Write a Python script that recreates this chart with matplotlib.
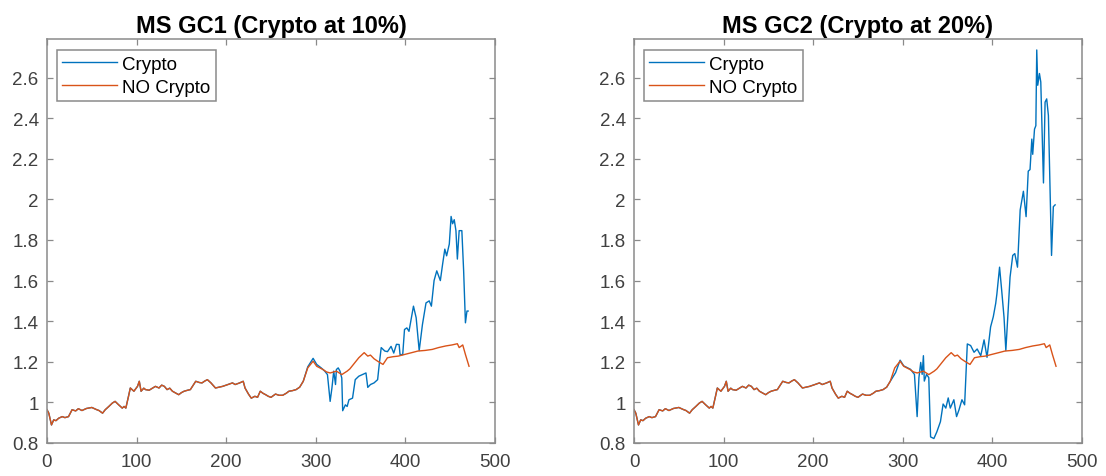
import matplotlib
matplotlib.use('Agg')
import matplotlib.pyplot as plt

# NO Crypto benchmark (same in both panels)
no_crypto_x = [0, 2, 5, 7.5, 10, 13, 17, 20, 24, 28, 32, 35, 39, 44, 50, 55, 58, 62, 65, 69,
               73, 76, 80, 84, 86, 88, 91, 93, 97, 101, 103, 105, 108, 110, 114, 118, 121, 125,
               128, 131, 134, 137, 140, 144, 147, 150, 153, 157, 160, 166, 170, 173, 176, 179,
               183, 188, 192, 196, 202, 207, 210, 215, 219, 221, 225, 228, 232, 235, 238, 241,
               244, 247, 250, 255, 259, 263, 267, 270, 274, 278, 282, 286, 291, 297, 301, 308,
               312, 316, 320, 323, 329, 335, 338, 342, 348, 354, 358, 361, 365, 369, 372, 375,
               380, 386, 392, 399, 407, 414, 422, 430, 437, 445, 452, 458, 460, 464, 467, 471]
no_crypto_y = [0.964, 0.947, 0.889, 0.914, 0.91, 0.922, 0.93, 0.925, 0.93, 0.964, 0.958, 0.969,
               0.96, 0.97, 0.975, 0.965, 0.96, 0.947, 0.964, 0.98, 0.997, 1.005, 0.988, 0.972,
               0.98, 0.972, 1.03, 1.071, 1.055, 1.079, 1.104, 1.055, 1.07, 1.063, 1.06, 1.071,
               1.079, 1.071, 1.085, 1.079, 1.063, 1.07, 1.055, 1.045, 1.038, 1.048, 1.055, 1.06,
               1.063, 1.104, 1.098, 1.096, 1.105, 1.112, 1.096, 1.071, 1.075, 1.079, 1.088,
               1.096, 1.088, 1.096, 1.104, 1.071, 1.04, 1.021, 1.03, 1.025, 1.055, 1.045, 1.038,
               1.03, 1.025, 1.041, 1.035, 1.035, 1.045, 1.055, 1.058, 1.063, 1.075, 1.104, 1.17,
               1.203, 1.178, 1.162, 1.15, 1.145, 1.15, 1.154, 1.137, 1.154, 1.165, 1.187, 1.22,
               1.245, 1.228, 1.233, 1.215, 1.203, 1.195, 1.187, 1.22, 1.225, 1.228, 1.236,
               1.245, 1.253, 1.256, 1.261, 1.27, 1.278, 1.283, 1.289, 1.27, 1.283, 1.236, 1.178]

# Crypto at 10%: follows the benchmark up to x=286
n_common = 82
crypto10_x = no_crypto_x[:n_common] + [
    291, 297, 301, 306, 310, 313, 316, 318, 320, 322, 323, 325, 327, 329, 330, 333, 335, 337,
    341, 344, 348, 352, 356, 358, 361, 365, 369, 371, 373, 377, 380, 384, 387, 390, 393, 394,
    397, 399, 401.6, 404, 406, 409, 412, 415.4, 419, 423, 426.6, 429, 432, 435, 439, 441.5,
    444, 446, 449, 451, 452.7, 454.5, 456.4, 458, 460, 463, 465, 467, 468.7, 470]
crypto10_y = no_crypto_y[:n_common] + [
    1.175, 1.217, 1.187, 1.17, 1.154, 1.137, 1.005, 1.071, 1.154, 1.088, 1.162, 1.17, 1.154,
    1.12, 0.959, 0.988, 0.98, 1.013, 1.021, 1.112, 1.129, 1.137, 1.145, 1.074, 1.088, 1.096,
    1.112, 1.195, 1.27, 1.253, 1.25, 1.276, 1.243, 1.286, 1.285, 1.236, 1.235, 1.359, 1.367,
    1.35, 1.40, 1.474, 1.417, 1.255, 1.383, 1.49, 1.50, 1.474, 1.60, 1.648, 1.60, 1.68,
    1.755, 1.722, 1.78, 1.916, 1.88, 1.90, 1.846, 1.706, 1.846, 1.846, 1.648, 1.392, 1.45,
    1.45]

# Crypto at 20%
crypto20_x = no_crypto_x[:n_common] + [
    292, 297, 301, 308.6, 313, 316, 318, 320, 321.6, 323, 324, 326.5, 329, 331, 334.7, 338,
    342, 345, 348, 350.7, 353, 357, 360, 362.7, 366, 369, 372, 375.7, 379.5, 383, 387, 390.7,
    394, 398, 401, 403.7, 405, 408, 410.4, 413, 415, 418, 419.7, 422.7, 425, 428, 431, 434.6,
    437.6, 440, 442, 444, 445, 447, 448.5, 449.5, 450.6, 452.5, 454, 457, 458.8, 460.6,
    462.5, 466, 468, 470]
crypto20_y = no_crypto_y[:n_common] + [
    1.147, 1.208, 1.18, 1.163, 1.138, 0.93, 1.122, 1.197, 1.138, 1.23, 1.105, 1.138, 1.122,
    0.83, 0.822, 0.855, 0.905, 0.992, 0.972, 1.022, 0.972, 1.013, 0.93, 0.963, 1.013, 0.988,
    1.288, 1.28, 1.247, 1.263, 1.23, 1.308, 1.222, 1.372, 1.422, 1.488, 1.534, 1.666, 1.55,
    1.418, 1.255, 1.484, 1.617, 1.724, 1.733, 1.666, 1.948, 2.04, 1.915, 2.139, 2.147, 2.297,
    2.222, 2.346, 2.363, 2.736, 2.562, 2.62, 2.578, 2.081, 2.479, 2.495, 2.413, 1.724, 1.964,
    1.973]

titles = ['MS GC1 (Crypto at 10%)', 'MS GC2 (Crypto at 20%)']
crypto_series = [(crypto10_x, crypto10_y), (crypto20_x, crypto20_y)]
yticks = [0.8, 1, 1.2, 1.4, 1.6, 1.8, 2, 2.2, 2.4, 2.6]
ytick_labels = ['0.8', '1', '1.2', '1.4', '1.6', '1.8', '2', '2.2', '2.4', '2.6']
xticks = [0, 100, 200, 300, 400, 500]

plt.rcParams['font.family'] = ['Liberation Sans', 'DejaVu Sans']

blue = '#0072BD'
orange = '#D95319'
frame = '#8a8a8a'
text_col = '#404040'

fig = plt.figure(figsize=(11.06, 4.77), dpi=100)
lefts = [47 / 1106, 634 / 1106]
width = 448 / 1106
bottom = 33 / 477
height = 404 / 477

for i in range(2):
    ax = fig.add_axes([lefts[i], bottom, width, height])
    cx, cy = crypto_series[i]
    ax.plot(cx, cy, color=blue, lw=1.0, label='Crypto')
    ax.plot(no_crypto_x, no_crypto_y, color=orange, lw=1.0, label='NO Crypto')
    ax.set_xlim(0, 500)
    ax.set_ylim(0.8, 2.79)
    ax.set_xticks(xticks)
    ax.set_yticks(yticks)
    ax.set_yticklabels(ytick_labels)
    ax.tick_params(direction='in', top=True, right=True, length=4.5, width=0.9,
                   color=frame, labelcolor=text_col, labelsize=13.5)
    ax.tick_params(axis='x', pad=7.5)
    ax.tick_params(axis='y', pad=6)
    for s in ax.spines.values():
        s.set_color(frame)
        s.set_linewidth(1.1)
    ax.set_title(titles[i], fontsize=17, fontweight='bold', color='black', pad=5)
    leg = ax.legend(loc='upper left', bbox_to_anchor=(0.022, 0.972), fontsize=13.5,
                    handlelength=2.9, handletextpad=0.27, borderpad=0.3,
                    labelspacing=0.3, fancybox=False, framealpha=1, borderaxespad=0)
    leg.get_frame().set_edgecolor(frame)
    leg.get_frame().set_linewidth(1.1)
    for t in leg.get_texts():
        t.set_color('black')

fig.savefig('out.png', dpi=100)
